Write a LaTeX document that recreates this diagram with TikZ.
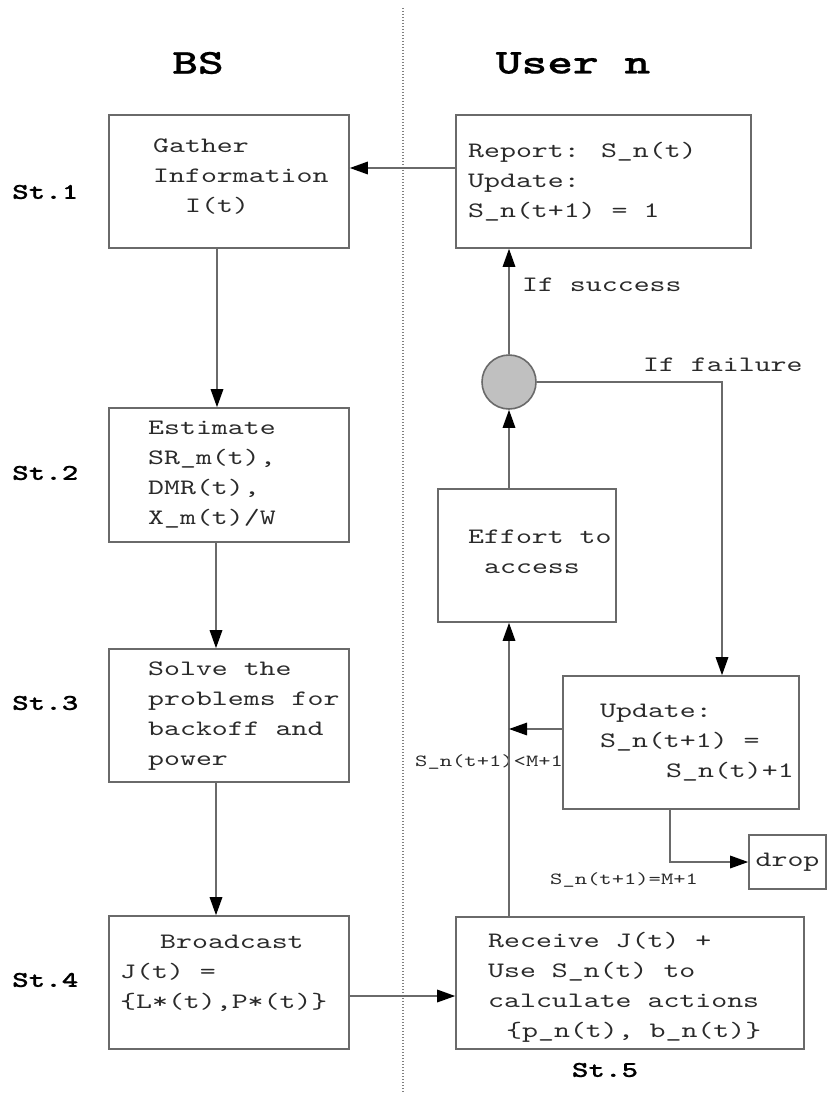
\documentclass[tikz,border=0pt]{standalone}
\usepackage{fontspec}
\usetikzlibrary{arrows.meta}
\newfontfamily\monof{lmmono10-regular.otf}[FakeStretch=1.38]
\newfontfamily\monobf{lmmonolt10-bold.otf}[FakeStretch=1.4,FakeBold=0.6]
\definecolor{linegray}{HTML}{6A6A6A}
\definecolor{txtgray}{HTML}{2A2A2A}
\definecolor{circfill}{HTML}{C0C0C0}
\begin{document}
\begin{tikzpicture}[x=1pt,y=-1pt,
  box/.style={draw=linegray, line width=1.6pt, inner sep=0pt},
  body/.style={anchor=west, inner sep=0pt, align=left, text=txtgray,
    font=\monof\fontsize{22}{30}\selectfont},
  small/.style={anchor=west, inner sep=0pt, text=txtgray,
    font=\monof\fontsize{17}{20}\selectfont},
  head/.style={inner sep=0pt, font=\monobf\fontsize{35}{38}\selectfont},
  stlab/.style={inner sep=0pt, font=\monobf\fontsize{22.5}{24}\selectfont},
  conn/.style={draw=linegray, line width=1.6pt,
    -{Triangle[length=18pt,width=12.5pt,color=black]}},
  divider/.style={draw=gray, line width=1.2pt, dash pattern=on 1.2pt off 1.8pt}
]
\useasboundingbox (0,0) rectangle (827,1097);

% divider
\coordinate (dtop) at (403,8);
\coordinate (dbot) at (403,1093);
\draw[divider] (dtop) -- (dbot);

% headings
\node[head] (hBS) at (198,63) {BS};
\node[head] (hUser) at (573,63) {User n};

% step labels
\node[stlab, anchor=west] (st1) at (12,192) {St.1};
\node[stlab, anchor=west] (st2) at (12,473) {St.2};
\node[stlab, anchor=west] (st3) at (12,703) {St.3};
\node[stlab, anchor=west] (st4) at (12,980) {St.4};
\node[stlab] (st5) at (605,1070) {St.5};

% boxes
\node[box, minimum width=240, minimum height=133] (Gather) at (229,181.5) {};
\node[box, minimum width=295, minimum height=133] (Report) at (603.5,181.5) {};
\node[box, minimum width=240, minimum height=134] (Estimate) at (229,475) {};
\node[box, minimum width=240, minimum height=133] (Solve) at (229,715.5) {};
\node[box, minimum width=240, minimum height=133] (Broadcast) at (229,982.5) {};
\node[box, minimum width=348, minimum height=132] (Receive) at (630,983) {};
\node[box, minimum width=178, minimum height=133] (Effort) at (527,555.5) {};
\node[box, minimum width=236, minimum height=133] (Update) at (681,742.5) {};
\node[box, minimum width=77, minimum height=54, text=txtgray,
      font=\monof\fontsize{22}{26}\selectfont] (drop) at (787.5,862) {drop};
\node[draw=linegray, line width=1.6pt, fill=circfill, circle,
      minimum size=54, inner sep=0pt] (circ) at (509,382) {};

% box texts
\node[body] (tGather) at (153,177) {Gather\\Information\\\hspace*{32pt}I(t)};
\node[body] (tReport) at (468,182) {Report: S\_n(t)\\Update:\\S\_n(t+1) = 1};
\node[body] (tEstimate) at (148,475) {Estimate\\SR\_m(t),\\DMR(t),\\X\_m(t)/W};
\node[body] (tSolve) at (148,716) {Solve the\\problems for\\backoff and\\power};
\node[body] (tBroadcast) at (120,973) {\hspace*{40pt}Broadcast\\J(t) =\\\{L*(t),P*(t)\}};
\node[body] (tEffort) at (468,552) {Effort to\\\hspace*{16pt}access};
\node[body] (tUpdate) at (600,743) {Update:\\S\_n(t+1) =\\\hspace*{66pt}S\_n(t)+1};
\node[body] (tReceive) at (488,987.5) {Receive J(t) +\\Use S\_n(t) to\\calculate actions\\\hspace*{18pt}\{p\_n(t), b\_n(t)\}};

% edge labels
\node[body] (lSucc) at (522,285) {If success};
\node[body] (lFail) at (643,365) {If failure};
\node[small] (lLess) at (415,762) {S\_n(t+1)<M+1};
\node[small] (lEq) at (550,880) {S\_n(t+1)=M+1};

% connectors
\draw[conn] ([yshift=13.5pt]Report.west) -- ([yshift=13.5pt]Gather.east);
\draw[conn] ([xshift=-12pt]Gather.south) -- ([xshift=-12pt]Estimate.north);
\draw[conn] ([xshift=-13pt]Estimate.south) -- ([xshift=-13pt]Solve.north);
\draw[conn] ([xshift=-13pt]Solve.south) -- ([xshift=-13pt]Broadcast.north);
\draw[conn] ([yshift=-13.5pt]Broadcast.east) -- ([yshift=-13.5pt]Broadcast.east -| Receive.west);
\draw[conn] (Receive.north -| circ) -- (Effort.south -| circ);
\draw[conn] (Effort.north -| circ) -- (circ.south);
\draw[conn] (circ.north) -- (Report.south -| circ);
\draw[conn] (circ.east) -| ([xshift=41pt]Update.north);
\draw[conn] ([yshift=13.5pt]Update.west) -- ([yshift=13.5pt]Update.west -| circ);
\draw[conn] ([xshift=-11pt]Update.south) |- (drop.west);
\end{tikzpicture}
\end{document}
